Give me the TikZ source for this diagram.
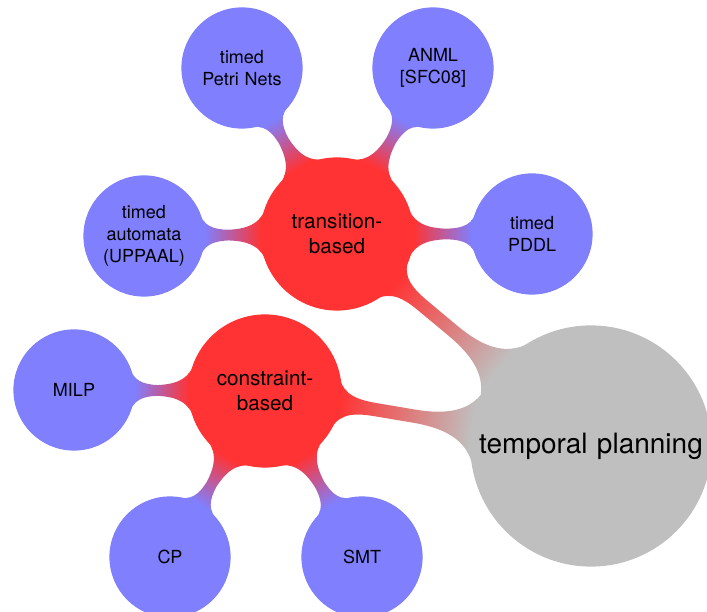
\documentclass[tikz,border=0pt]{standalone}
\usepackage{fontspec}
\setmainfont{TeX Gyre Heros}
\usetikzlibrary{mindmap}
\colorlet{leafcol}{blue!50}
\colorlet{midcol}{red!80}
\colorlet{rootcol}{gray!50}
\begin{document}
\begin{tikzpicture}[x=1pt,y=1pt,mindmap,
  leaf/.style={concept, concept color=leafcol, fill=leafcol, minimum size=120pt, text width=92pt, inner sep=0pt, align=center, font=\fontsize{18}{22}\selectfont},
  mid/.style={concept, concept color=midcol, fill=midcol, minimum size=152pt, text width=104pt, inner sep=0pt, align=center, font=\fontsize{20.7}{25}\selectfont},
  rootc/.style={concept, concept color=rootcol, fill=rootcol, minimum size=240pt, text width=226pt, inner sep=0pt, align=center, font=\fontsize{28}{34}\selectfont}]
\useasboundingbox (0,0) rectangle (707,612);
\node[rootc] (root) at (591,166) {temporal planning};
\node[mid] (tb) at (337,378) {transition-\\based};
\node[mid] (cb) at (265,221) {constraint-\\based};
\node[leaf] (petri) at (242,544) {timed\\Petri Nets};
\node[leaf] (anml) at (433,544) {ANML\\{[SFC08]}};
\node[leaf] (auto) at (144,376) {timed\\automata\\(UPPAAL)};
\node[leaf] (pddl) at (532,378) {timed\\PDDL};
\node[leaf] (milp) at (74,222) {MILP};
\node[leaf] (cp) at (170,55) {CP};
\node[leaf] (smt) at (362,55) {SMT};
\path (root) to[circle connection bar switch color=from (rootcol) to (midcol)] (tb);
\path (root) to[circle connection bar switch color=from (rootcol) to (midcol)] (cb);
\path (tb) to[circle connection bar switch color=from (midcol) to (leafcol)] (petri);
\path (tb) to[circle connection bar switch color=from (midcol) to (leafcol)] (anml);
\path (tb) to[circle connection bar switch color=from (midcol) to (leafcol)] (auto);
\path (tb) to[circle connection bar switch color=from (midcol) to (leafcol)] (pddl);
\path (cb) to[circle connection bar switch color=from (midcol) to (leafcol)] (milp);
\path (cb) to[circle connection bar switch color=from (midcol) to (leafcol)] (cp);
\path (cb) to[circle connection bar switch color=from (midcol) to (leafcol)] (smt);
\end{tikzpicture}
\end{document}
